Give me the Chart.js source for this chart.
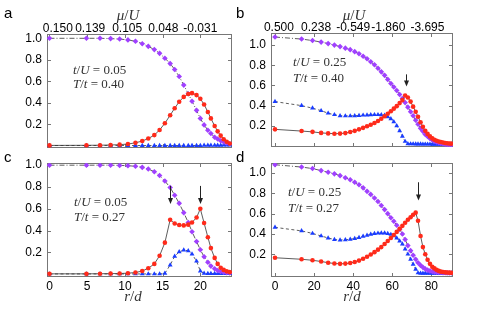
<!DOCTYPE html>
<html>
<head>
<meta charset="utf-8">
<script src="https://cdn.jsdelivr.net/npm/chart.js@4.4.1/dist/chart.umd.min.js"></script>
<style>
  html, body { margin: 0; padding: 0; background: #fff; }
  #wrap { position: relative; width: 485px; height: 309px; }
  #wrap canvas { position: absolute; left: 0; top: 0; }
</style>
</head>
<body>
<div id="wrap">
  <canvas id="pa" width="485" height="309"></canvas>
  <canvas id="pb" width="485" height="309"></canvas>
  <canvas id="pc" width="485" height="309"></canvas>
  <canvas id="pd" width="485" height="309"></canvas>
</div>
<script>
// r/d de los puntos (paneles a,c y paneles b,d)
const rChico = [0, 4.9, 6.7, 8.1, 9.3, 10.4, 11.4, 12.3, 13.1, 13.9, 14.6, 15.3, 16.0, 16.6, 17.2,
  17.8, 18.4, 18.9, 19.5, 20.0, 20.5, 21.0, 21.4, 21.9, 22.3, 22.7, 23.1, 23.5, 23.9];
const rGrande = [0, 13.6, 19.2, 23.6, 27.2, 30.4, 33.3, 36.0, 38.5, 40.8, 43.0, 45.1, 47.1, 49.0, 50.9,
  52.7, 54.4, 56.1, 57.7, 59.3, 60.8, 62.3, 63.8, 65.2, 66.6, 68.0, 69.4, 70.7, 72.0, 73.2, 74.5,
  75.7, 76.9, 78.1, 79.3, 80.5, 81.6, 82.7, 83.8, 84.9, 86.0, 87.1, 88.1, 89.2, 90.2];

// panel a
const aMorado = [1.0, 1.0, 1.0, 0.997, 0.993, 0.985, 0.972, 0.95, 0.925, 0.895, 0.86, 0.815, 0.765, 0.71,
  0.645, 0.565, 0.485, 0.415, 0.33, 0.255, 0.195, 0.145, 0.115, 0.08, 0.063, 0.048, 0.036, 0.027, 0.02];
const aRojo = [0.004, 0.005, 0.006, 0.008, 0.011, 0.017, 0.028, 0.045, 0.068, 0.1, 0.148, 0.21, 0.285, 0.35,
  0.41, 0.455, 0.482, 0.49, 0.472, 0.438, 0.385, 0.315, 0.255, 0.185, 0.135, 0.095, 0.062, 0.038, 0.022];
const aAzul = [0.003, 0.003, 0.003, 0.003, 0.003, 0.003, 0.003, 0.003, 0.003, 0.003, 0.003, 0.003, 0.003, 0.003,
  0.003, 0.003, 0.003, 0.003, 0.003, 0.003, 0.004, 0.004, 0.004, 0.005, 0.005, 0.005, 0.006, 0.006, 0.006];

// panel b
const bMorado = [1.08, 1.06, 1.045, 1.03, 1.015, 1.0, 0.985, 0.97, 0.955, 0.935, 0.915, 0.89, 0.865, 0.835,
  0.805, 0.77, 0.735, 0.70, 0.66, 0.62, 0.585, 0.55, 0.51, 0.47, 0.43, 0.385, 0.34, 0.3, 0.255, 0.215,
  0.175, 0.145, 0.115, 0.095, 0.075, 0.06, 0.048, 0.04, 0.033, 0.027, 0.022, 0.018, 0.015, 0.013, 0.011];
const bRojo = [0.165, 0.148, 0.14, 0.13, 0.125, 0.122, 0.123, 0.128, 0.138, 0.15, 0.165, 0.18, 0.195, 0.21,
  0.228, 0.248, 0.27, 0.295, 0.32, 0.345, 0.37, 0.395, 0.425, 0.455, 0.5, 0.48, 0.44, 0.39, 0.34, 0.29,
  0.235, 0.19, 0.15, 0.12, 0.095, 0.075, 0.062, 0.052, 0.045, 0.039, 0.034, 0.03, 0.027, 0.025, 0.023];
const bAzul = [0.44, 0.40, 0.375, 0.35, 0.325, 0.31, 0.3, 0.298, 0.298, 0.3, 0.302, 0.305, 0.307, 0.308,
  0.31, 0.31, 0.308, 0.303, 0.29, 0.27, 0.24, 0.2, 0.15, 0.095, 0.045, 0.022, 0.02, 0.02, 0.019, 0.019,
  0.019, 0.018, 0.018, 0.018, 0.018, 0.017, 0.017, 0.017, 0.017, 0.016, 0.016, 0.016, 0.016, 0.016, 0.016];

// panel c
const cMorado = [1.0, 1.0, 1.0, 1.0, 0.998, 0.995, 0.99, 0.98, 0.965, 0.94, 0.905, 0.855, 0.795, 0.725,
  0.65, 0.565, 0.475, 0.39, 0.3, 0.225, 0.16, 0.11, 0.075, 0.05, 0.035, 0.025, 0.018, 0.014, 0.012];
const cRojo = [0.004, 0.004, 0.005, 0.006, 0.007, 0.01, 0.016, 0.03, 0.055, 0.095, 0.17, 0.29, 0.5, 0.465,
  0.452, 0.448, 0.455, 0.475, 0.52, 0.6, 0.47, 0.34, 0.24, 0.15, 0.095, 0.06, 0.04, 0.027, 0.02];
const cAzul = [0.003, 0.003, 0.003, 0.003, 0.003, 0.003, 0.003, 0.003, 0.003, 0.003, 0.003, 0.008, 0.085,
  0.165, 0.205, 0.222, 0.215, 0.185, 0.12, 0.03, 0.008, 0.006, 0.006, 0.006, 0.006, 0.006, 0.006, 0.006, 0.006];

// panel d
const dMorado = [1.083, 1.06, 1.045, 1.025, 1.008, 0.993, 0.975, 0.955, 0.935, 0.91, 0.885, 0.855, 0.82,
  0.79, 0.755, 0.72, 0.68, 0.64, 0.6, 0.56, 0.525, 0.485, 0.445, 0.4, 0.345, 0.285, 0.235, 0.19, 0.15,
  0.115, 0.09, 0.07, 0.055, 0.043, 0.035, 0.03, 0.026, 0.023, 0.021, 0.019, 0.018, 0.017, 0.016, 0.015, 0.015];
const dRojo = [0.165, 0.15, 0.14, 0.128, 0.116, 0.108, 0.105, 0.107, 0.113, 0.123, 0.137, 0.155, 0.175,
  0.197, 0.22, 0.245, 0.27, 0.3, 0.33, 0.36, 0.39, 0.42, 0.45, 0.48, 0.51, 0.54, 0.565, 0.59, 0.61, 0.53,
  0.38, 0.27, 0.2, 0.145, 0.105, 0.075, 0.06, 0.045, 0.035, 0.028, 0.024, 0.021, 0.019, 0.018, 0.017];
const dAzul = [0.465, 0.43, 0.405, 0.38, 0.36, 0.345, 0.34, 0.342, 0.347, 0.355, 0.365, 0.377, 0.387, 0.396,
  0.403, 0.407, 0.409, 0.408, 0.403, 0.395, 0.38, 0.36, 0.33, 0.3, 0.25, 0.2, 0.15, 0.1, 0.05, 0.015,
  0.012, 0.012, 0.012, 0.012, 0.012, 0.012, 0.012, 0.012, 0.012, 0.012, 0.012, 0.012, 0.012, 0.012, 0.012];

// etiquetas de los ejes
const ticksR1 = [0, 5, 10, 15, 20];
const ticksR2 = [0, 20, 40, 60, 80];
const ticksY = [0.2, 0.4, 0.6, 0.8, 1.0];
const muA = ['0.150', '0.139', '0.105', '0.048', '-0.031'];
const muPosA = [1.1, 5.4, 10.3, 15.1, 20.0];
const muB = ['0.500', '0.238', '-0.549', '-1.860', '-3.695'];
const muPosB = [2, 21, 40, 58, 78];

const FUENTE = "'Liberation Sans', Arial, sans-serif";
const SERIF = "'Liberation Serif', 'DejaVu Serif', serif";

function puntos(rs, vals) {
  return rs.map((r, i) => ({ x: r, y: vals[i] }));
}

function textoMat(ctx, x, y, partes, size, centrado) {
  const fuentes = partes.map(p => (p[1] ? 'italic ' : '') + size + 'px ' + SERIF);
  let ancho = 0;
  partes.forEach((p, i) => { ctx.font = fuentes[i]; ancho += ctx.measureText(p[0]).width; });
  let cx = centrado ? x - ancho / 2 : x;
  ctx.textBaseline = 'middle';
  ctx.textAlign = 'left';
  partes.forEach((p, i) => {
    ctx.font = fuentes[i];
    ctx.fillText(p[0], cx, y);
    cx += ctx.measureText(p[0]).width;
  });
}

const decorado = {
  id: 'decorado',
  beforeDatasetsDraw(chart, args, o) {
    const { ctx, chartArea: ca } = chart;
    const sx = chart.scales.x, sy = chart.scales.y;
    ctx.save();
    ctx.strokeStyle = '#777';
    ctx.lineWidth = 1;
    ctx.beginPath();
    sx.ticks.forEach(t => {
      const px = Math.round(sx.getPixelForValue(t.value)) + 0.5;
      ctx.moveTo(px, ca.bottom); ctx.lineTo(px, ca.bottom - 4);
      ctx.moveTo(px, ca.top); ctx.lineTo(px, ca.top + 4);
    });
    sy.ticks.forEach(t => {
      const py = Math.round(sy.getPixelForValue(t.value)) + 0.5;
      ctx.moveTo(ca.left, py); ctx.lineTo(ca.left + 4, py);
      ctx.moveTo(ca.right, py); ctx.lineTo(ca.right - 4, py);
    });
    ctx.stroke();
    ctx.strokeRect(ca.left + 0.5, ca.top + 0.5, ca.right - ca.left - 1, ca.bottom - ca.top - 1);
    ctx.restore();
  },
  afterDatasetsDraw(chart, args, o) {
    const ctx = chart.ctx;
    const sx = chart.scales.x, sy = chart.scales.y;
    ctx.save();
    // flechas
    ctx.strokeStyle = '#222';
    ctx.fillStyle = '#222';
    ctx.lineWidth = 1;
    (o.flechas || []).forEach(f => {
      const px = Math.round(sx.getPixelForValue(f[0])) + 0.5;
      const y1 = sy.getPixelForValue(f[1]), y2 = sy.getPixelForValue(f[2]);
      ctx.beginPath();
      ctx.moveTo(px, y1); ctx.lineTo(px, y2 - 5);
      ctx.stroke();
      ctx.beginPath();
      ctx.moveTo(px - 2.5, y2 - 6); ctx.lineTo(px + 2.5, y2 - 6); ctx.lineTo(px, y2);
      ctx.closePath();
      ctx.fill();
    });
    // textos
    ctx.fillStyle = '#333';
    (o.textos || []).forEach(t => textoMat(ctx, t.x, t.y, t.partes, t.size, t.centrado));
    if (o.letra) {
      ctx.fillStyle = '#000';
      ctx.font = '15px ' + FUENTE;
      ctx.textBaseline = 'middle';
      ctx.textAlign = 'left';
      ctx.fillText(o.letra[0], o.letra[1], o.letra[2]);
    }
    ctx.restore();
  }
};

function crearPanel(id, cfg) {
  const ctx = document.getElementById(id).getContext('2d');
  const area = cfg.area; // [izq, arriba, der, abajo]
  const altoX = cfg.etiquetasX ? 18 : 0;
  const altoTop = cfg.mu ? 20 : 0;

  const escalas = {
    x: {
      type: 'linear', position: 'bottom', min: cfg.xmin, max: cfg.xmax,
      grid: { display: false, drawTicks: false }, border: { display: false },
      afterBuildTicks: s => { s.ticks = cfg.ticksX.map(v => ({ value: v })); },
      ticks: { display: cfg.etiquetasX, color: '#000', font: { family: FUENTE, size: 12 }, padding: 2, maxRotation: 0 },
      afterFit: s => { s.height = altoX; s.paddingLeft = 0; s.paddingRight = 0; }
    },
    y: {
      type: 'linear', min: cfg.ymin, max: cfg.ymax,
      grid: { display: false, drawTicks: false }, border: { display: false },
      afterBuildTicks: s => { s.ticks = ticksY.map(v => ({ value: v })); },
      ticks: { color: '#000', font: { family: FUENTE, size: 12 }, padding: 5, callback: v => v.toFixed(1) },
      afterFit: s => { s.width = 30; s.paddingTop = 0; s.paddingBottom = 0; }
    }
  };
  if (cfg.mu) {
    escalas.x2 = {
      type: 'linear', position: 'top', min: cfg.xmin, max: cfg.xmax,
      grid: { display: false, drawTicks: false }, border: { display: false },
      afterBuildTicks: s => { s.ticks = cfg.muPos.map(v => ({ value: v })); },
      ticks: { color: '#000', font: { family: FUENTE, size: 12 }, padding: -2, maxRotation: 0,
        callback: (v, i) => cfg.mu[i] },
      afterFit: s => { s.height = altoTop; s.paddingLeft = 0; s.paddingRight = 0; }
    };
  }

  const linea = { borderColor: '#333', borderWidth: 0.8, tension: 0, fill: false, pointBorderWidth: 0 };

  new Chart(ctx, {
    type: 'line',
    data: {
      datasets: [
        Object.assign({}, linea, {
          label: 'rojo', data: puntos(cfg.r, cfg.rojo),
          pointStyle: 'circle', pointRadius: 2.3, pointBackgroundColor: '#ff2a1a', pointBorderColor: '#ff2a1a'
        }),
        Object.assign({}, linea, {
          label: 'morado', data: puntos(cfg.r, cfg.morado), borderDash: [5, 2, 1, 2],
          pointStyle: 'rectRot', pointRadius: 2.8, pointBackgroundColor: '#a040ff', pointBorderColor: '#a040ff'
        }),
        Object.assign({}, linea, {
          label: 'azul', data: puntos(cfg.r, cfg.azul), borderDash: [3, 2.5],
          pointStyle: 'triangle', pointRadius: 2.8, pointBackgroundColor: '#1a3cff', pointBorderColor: '#1a3cff'
        })
      ]
    },
    options: {
      responsive: false,
      animation: false,
      layout: {
        padding: { left: area[0] - 30, top: area[1] - altoTop, right: 485 - area[2], bottom: 309 - area[3] - altoX }
      },
      plugins: {
        legend: { display: false },
        tooltip: { enabled: false },
        decorado: { flechas: cfg.flechas, textos: cfg.textos, letra: cfg.letra }
      },
      scales: escalas
    },
    plugins: [decorado]
  });
}

function anotacion(x, y, tU, Tt) {
  return [
    { x: x, y: y[0], size: 13, partes: [['t', 1], ['/', 0], ['U', 1], [' = ' + tU, 0]] },
    { x: x, y: y[1], size: 13, partes: [['T', 1], ['/', 0], ['t', 1], [' = ' + Tt, 0]] }
  ];
}

const muTitulo = [['μ', 1], ['/', 0], ['U', 1]];
const rTitulo = [['r', 1], ['/', 0], ['d', 1]];

crearPanel('pa', {
  area: [47, 34, 232, 148], xmin: -0.33, xmax: 24.2, ymin: -0.02, ymax: 1.04,
  r: rChico, morado: aMorado, rojo: aRojo, azul: aAzul,
  ticksX: ticksR1, etiquetasX: false, mu: muA, muPos: muPosA,
  textos: anotacion(73, [71, 85], '0.05', '0.40').concat([{ x: 128, y: 16, size: 15, centrado: true, partes: muTitulo }]),
  flechas: [], letra: ['a', 4, 14]
});

crearPanel('pb', {
  area: [271, 33, 453, 147], xmin: -2.05, xmax: 91.1, ymin: -0.01, ymax: 1.12,
  r: rGrande, morado: bMorado, rojo: bRojo, azul: bAzul,
  ticksX: ticksR2, etiquetasX: false, mu: muB, muPos: muPosB,
  textos: anotacion(293, [63, 79], '0.25', '0.40').concat([{ x: 354, y: 16, size: 15, centrado: true, partes: muTitulo }]),
  flechas: [[67.2, 0.71, 0.59]], letra: ['b', 236, 14]
});

crearPanel('pc', {
  area: [47, 163, 232, 277], xmin: -0.33, xmax: 24.2, ymin: -0.025, ymax: 1.02,
  r: rChico, morado: cMorado, rojo: cRojo, azul: cAzul,
  ticksX: ticksR1, etiquetasX: true,
  textos: anotacion(74, [203, 218], '0.05', '0.27').concat([{ x: 133, y: 297, size: 15, centrado: true, partes: rTitulo }]),
  flechas: [[16.0, 0.81, 0.645], [20.0, 0.81, 0.645]], letra: ['c', 4, 158]
});

crearPanel('pd', {
  area: [271, 163, 453, 277], xmin: -2.05, xmax: 91.1, ymin: -0.025, ymax: 1.10,
  r: rGrande, morado: dMorado, rojo: dRojo, azul: dAzul,
  ticksX: ticksR2, etiquetasX: true,
  textos: anotacion(288, [193, 209], '0.25', '0.27').concat([{ x: 352, y: 297, size: 15, centrado: true, partes: rTitulo }]),
  flechas: [[73.0, 0.91, 0.73]], letra: ['d', 236, 158]
});
</script>
</body>
</html>
